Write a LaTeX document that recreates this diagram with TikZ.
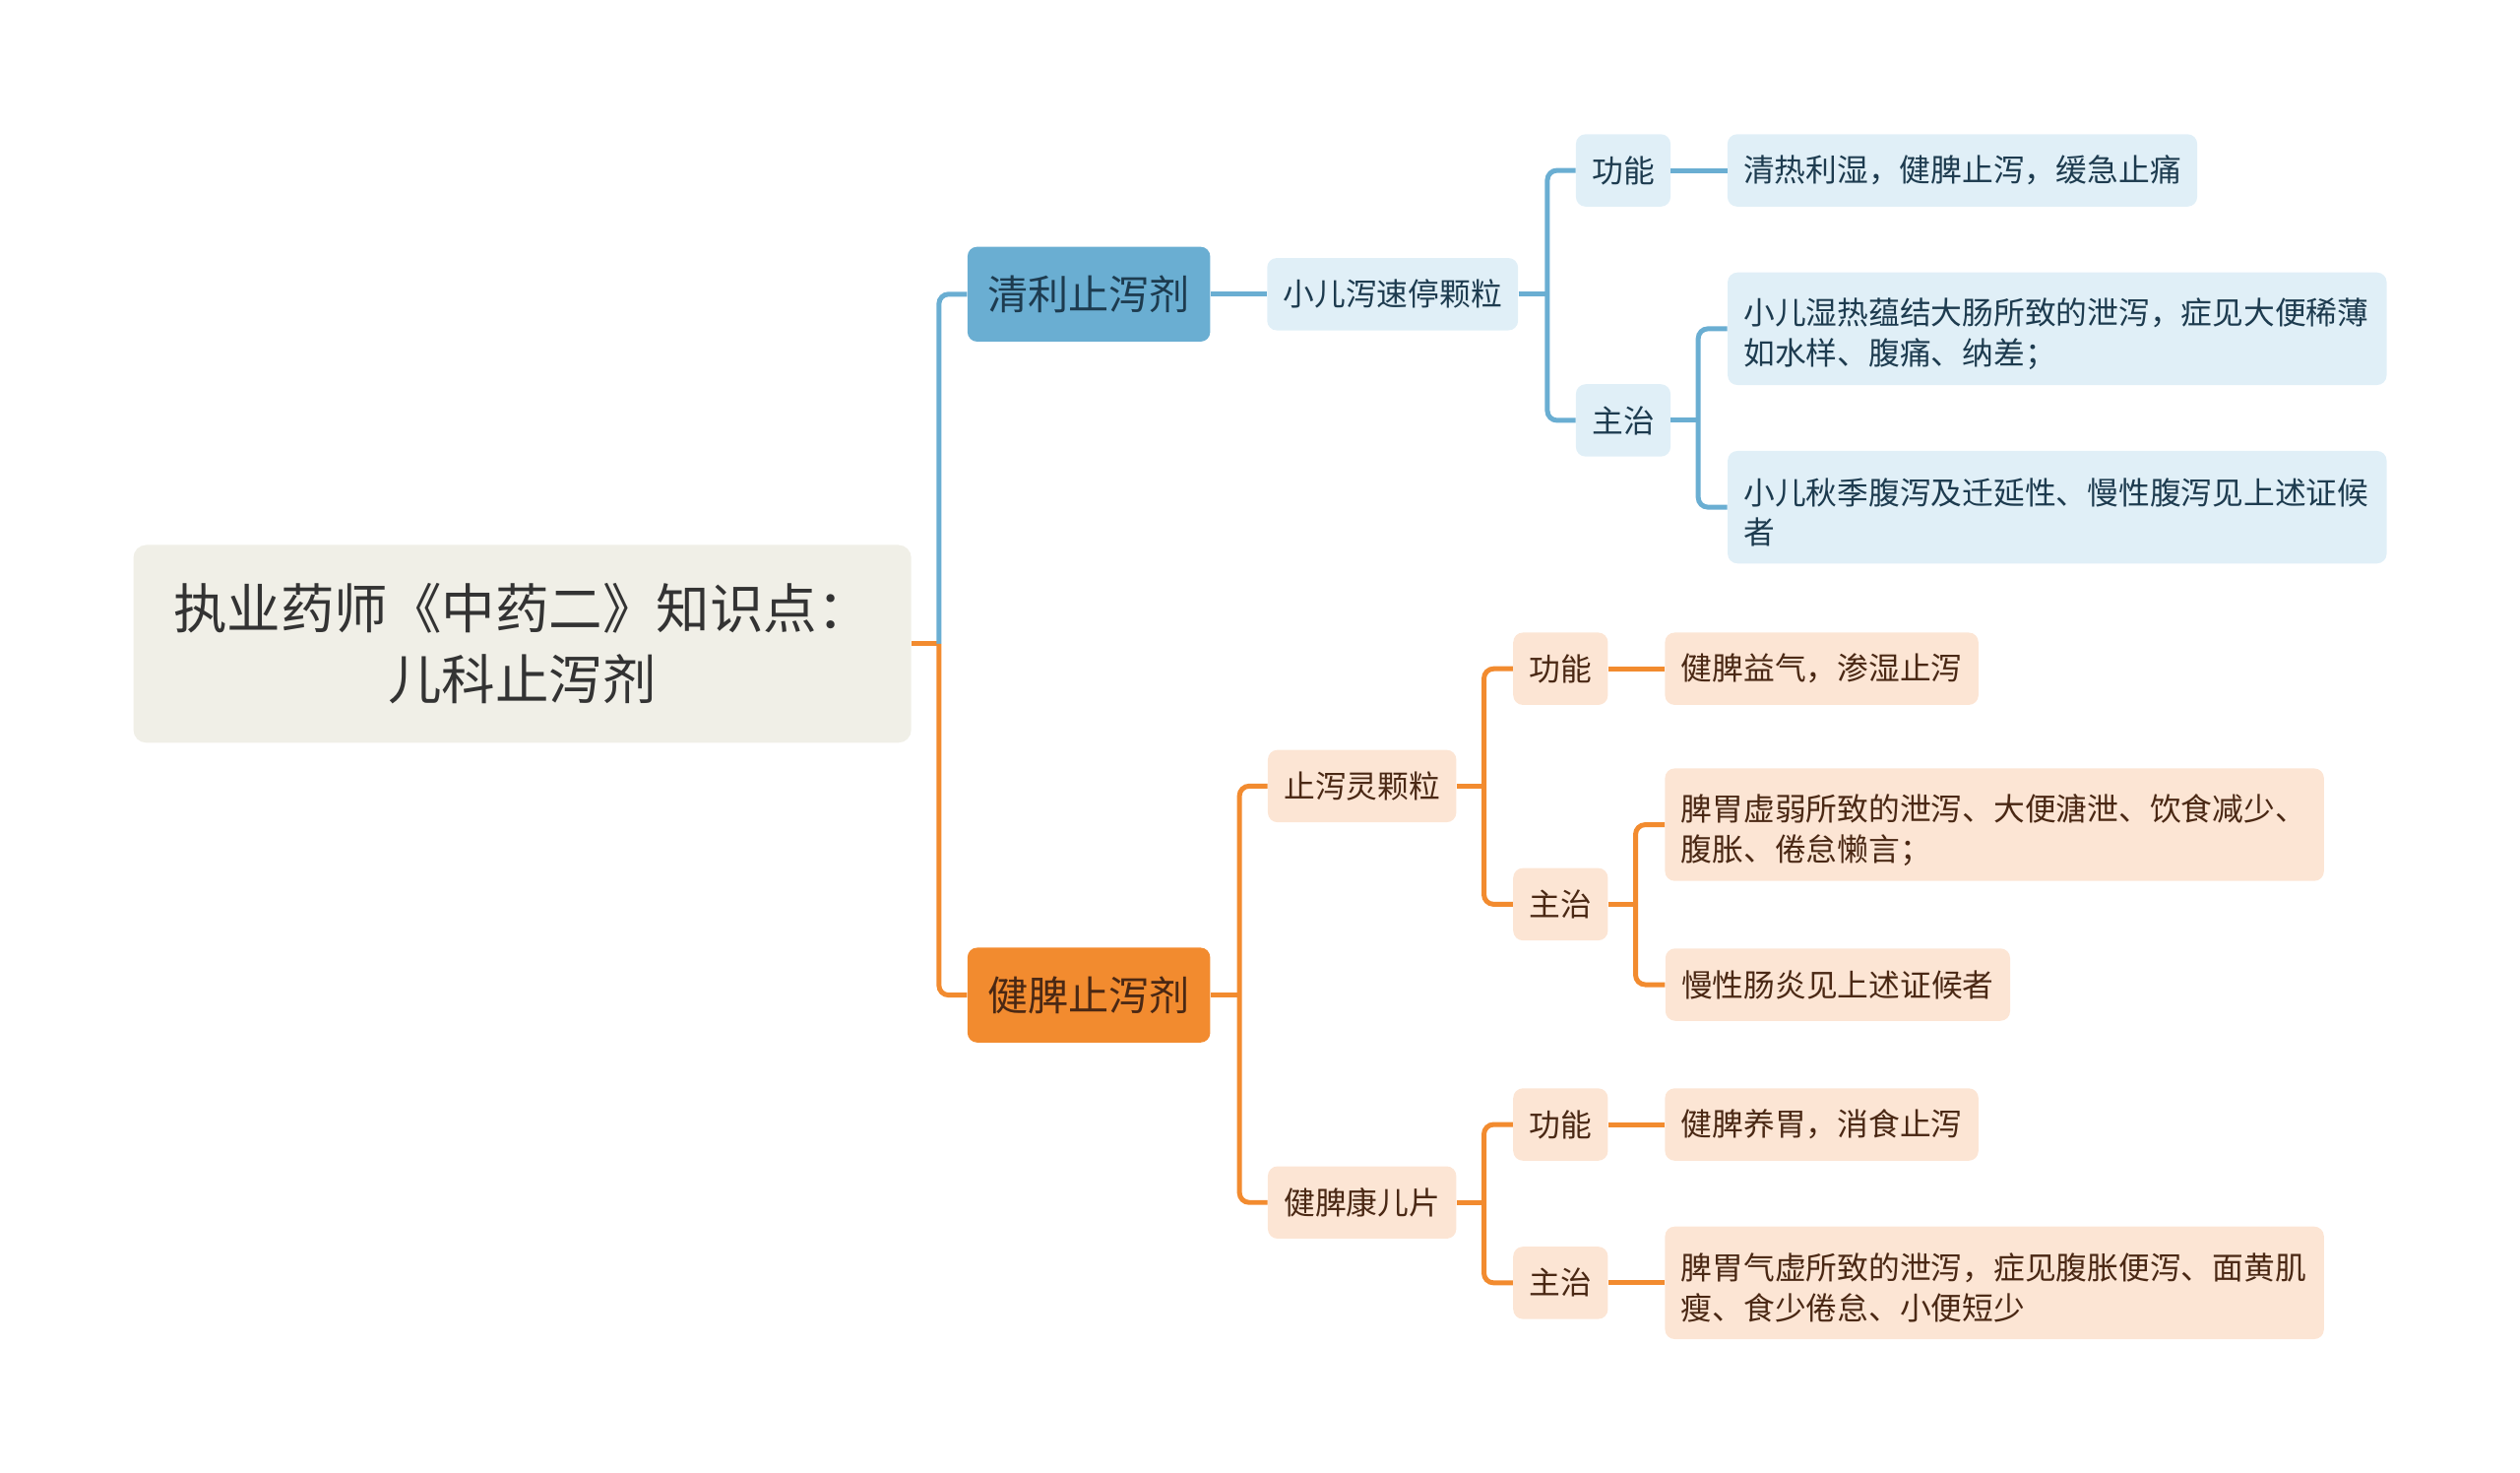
\documentclass[tikz,border=0pt]{standalone}
\usepackage{fontspec}
\newfontfamily\cjk{Noto Sans CJK SC}
\usetikzlibrary{positioning}
\definecolor{rootFill}{HTML}{F0EFE7}
\definecolor{rootText}{HTML}{333333}
\definecolor{blueMain}{HTML}{6AAED2}
\definecolor{blueLight}{HTML}{E0EFF7}
\definecolor{blueText}{HTML}{1D3B4F}
\definecolor{orangeMain}{HTML}{F28B2F}
\definecolor{orangeLight}{HTML}{FCE5D4}
\definecolor{brownText}{HTML}{4A2814}
\newlength\pu
\setlength\pu{0.03cm}

\begin{document}
\begin{tikzpicture}[x=0.03cm,y=-0.03cm,
    rootbox/.style={fill=rootFill, text=rootText, rounded corners=8\pu, minimum width=484\pu,
      minimum height=123\pu, align=center, font=\cjk\fontsize{28.5}{37.6}\selectfont},
    mainbox/.style={rounded corners=6\pu, minimum width=151\pu, minimum height=59\pu,
      font=\cjk\fontsize{21.5}{26}\selectfont},
    box/.style={rounded corners=6\pu, inner xsep=10\pu, minimum height=45\pu,
      font=\cjk\fontsize{16.6}{21.3}\selectfont},
    bluebox/.style={box, fill=blueLight, text=blueText},
    orangebox/.style={box, fill=orangeLight, text=brownText},
    widebox/.style={text width=390\pu, align=left, minimum height=70\pu,
      execute at begin node={\rule{0pt}{19.6pt}}},
    blueline/.style={draw=blueMain, line width=2.6pt, rounded corners=6\pu},
    orangeline/.style={draw=orangeMain, line width=2.6pt, rounded corners=6\pu}]
  \useasboundingbox (0,0) rectangle (1568,916);

  \node[rootbox] (root) at (325,400.5) {执业药师《中药二》知识点：\\儿科止泻剂};

  \node[mainbox, fill=blueMain, text=blueText] (qingli) at (677.5,183) {清利止泻剂};
  \node[mainbox, fill=orangeMain, text=brownText] (jianpi) at (677.5,619) {健脾止泻剂};

  \node[bluebox] (xiaoer) at (866.5,183) {小儿泻速停颗粒};
  \node[bluebox] (gnA) at (1010,106) {功能};
  \node[bluebox] (zzA) at (1010,261.5) {主治};
  \node[bluebox] (leafA1) at (1221,106) {清热利湿，健脾止泻，缓急止痛};
  \node[bluebox, widebox] (leafA2) at (1280,204.5) {小儿湿热蕴结大肠所致的泄泻，症见大便稀薄\\如水样、腹痛、纳差；};
  \node[bluebox, widebox] (leafA3) at (1280,315.5) {小儿秋季腹泻及迁延性、慢性腹泻见上述证候\\者};

  \node[orangebox] (zhixie) at (847.5,489) {止泻灵颗粒};
  \node[orangebox] (gnB) at (971,416) {功能};
  \node[orangebox] (zzB) at (971,562.5) {主治};
  \node[orangebox] (leafB1) at (1133.5,416) {健脾益气，渗湿止泻};
  \node[orangebox, widebox] (leafB2) at (1241,513) {脾胃虚弱所致的泄泻、大便溏泄、饮食减少、\\腹胀、倦怠懒言；};
  \node[orangebox] (leafB3) at (1143.5,612.5) {慢性肠炎见上述证候者};

  \node[orangebox] (jiankang) at (847.5,748) {健脾康儿片};
  \node[orangebox] (gnC) at (971,699.5) {功能};
  \node[orangebox] (zzC) at (971,798) {主治};
  \node[orangebox] (leafC1) at (1133.5,699.5) {健脾养胃，消食止泻};
  \node[orangebox, widebox] (leafC2) at (1241,798) {脾胃气虚所致的泄泻，症见腹胀便泻、面黄肌\\瘦、食少倦怠、小便短少};

  \draw[orangeline] (root.east) -- ++(17,0) coordinate (j0);
  \draw[blueline] (qingli.west) -| (j0);
  \draw[orangeline] (j0) |- (jianpi.west);

  \draw[blueline] (qingli.east) -- (xiaoer.west);
  \draw[blueline] (xiaoer.east) -- ++(18,0) coordinate (jA);
  \draw[blueline] (gnA.west) -| (jA) |- (zzA.west);
  \draw[blueline] (gnA.east) -- (leafA1.west);
  \draw[blueline] (zzA.east) -- ++(17,0) coordinate (jA2);
  \draw[blueline] (leafA2.west) -| (jA2) |- (leafA3.west);

  \draw[orangeline] (jianpi.east) -- ++(18,0) coordinate (jB);
  \draw[orangeline] (zhixie.west) -| (jB) |- (jiankang.west);
  \draw[orangeline] (zhixie.east) -- ++(17,0) coordinate (jC);
  \draw[orangeline] (gnB.west) -| (jC) |- (zzB.west);
  \draw[orangeline] (gnB.east) -- (leafB1.west);
  \draw[orangeline] (zzB.east) -- ++(17,0) coordinate (jD);
  \draw[orangeline] (leafB2.west) -| (jD) |- (leafB3.west);
  \draw[orangeline] (jiankang.east) -- ++(17,0) coordinate (jE);
  \draw[orangeline] (gnC.west) -| (jE) |- (zzC.west);
  \draw[orangeline] (gnC.east) -- (leafC1.west);
  \draw[orangeline] (zzC.east) -- (leafC2.west);
\end{tikzpicture}
\end{document}
